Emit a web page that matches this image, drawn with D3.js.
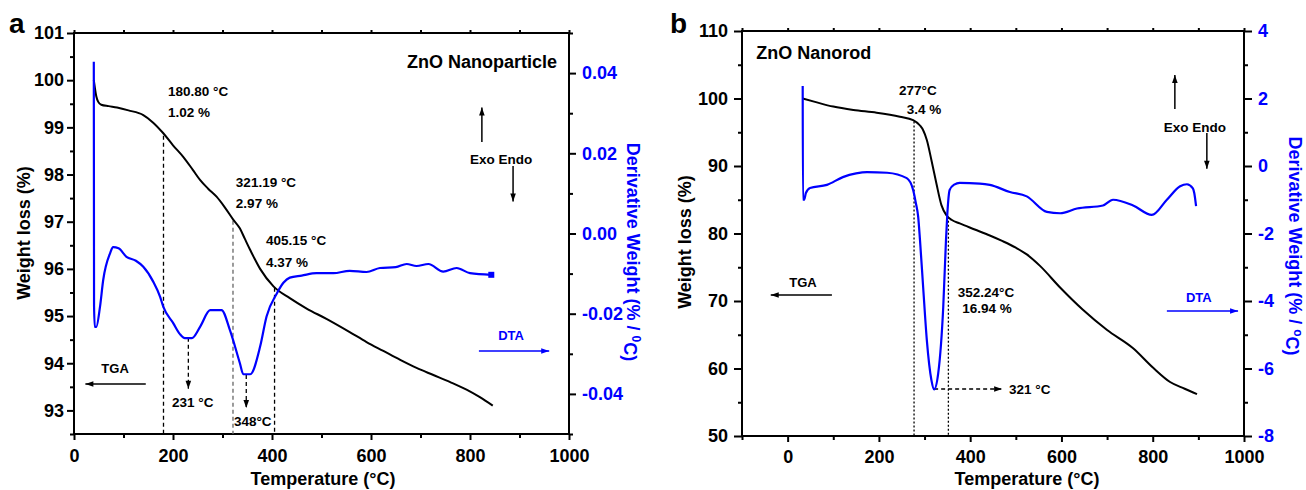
<!DOCTYPE html>
<html>
<head>
<meta charset="utf-8">
<script src="https://cdn.jsdelivr.net/npm/d3@7"></script>
<style>
  body { margin: 0; background: #fff; }
  svg text { font-family: "Liberation Sans", Arial, sans-serif; font-weight: bold; }
</style>
</head>
<body>
<svg id="chart" width="1306" height="490"></svg>
<script>
// ---------------------------------------------------------------
// Data  [temperature (°C), value]

// panel a : ZnO nanoparticle
const tgaA = [[40,100.0],[42,99.85],[45,99.66],[49,99.54],[55,99.48],[70,99.45],[87,99.42],[110,99.36],[140,99.26],[160,99.1],
  [180,98.88],[200,98.62],[221,98.37],[240,98.1],[255,97.88],[271,97.7],[288,97.53],[305,97.3],[322,97.04],
  [335,96.86],[345,96.64],[356,96.4],[376,96.0],[403,95.63],[436,95.38],[470,95.16],[510,94.94],
  [557,94.66],[591,94.45],[625,94.26],[659,94.07],[692,93.9],[726,93.75],[760,93.6],[793,93.44],[820,93.28],[846,93.1]];

const dtaA = [[40,0.0428],[40.5,-0.018],[42,-0.0233],[45,-0.0233],[52.5,-0.0183],[59,-0.0116],[73,-0.0049],
  [79,-0.0034],[90,-0.0037],[106,-0.0058],[125,-0.0068],[140,-0.0083],[160,-0.012],[174,-0.0158],[180.5,-0.0183],
  [200.7,-0.0224],[214,-0.0251],[224,-0.0261],[238,-0.0261],[255,-0.0232],[275,-0.0191],[298,-0.0191],
  [315,-0.0241],[335,-0.0323],[342,-0.0351],[356,-0.0351],[376,-0.0282],[389,-0.0207],[410,-0.0149],
  [423,-0.0123],[436,-0.011],[460,-0.0105],[490,-0.0099],[524,-0.0099],[557,-0.0093],[591,-0.0096],
  [618,-0.0086],[650,-0.0084],[672,-0.0076],[692,-0.0081],[716,-0.0076],[746,-0.0095],[773,-0.0086],
  [800,-0.0099],[843,-0.0103]];

// panel b : ZnO nanorod
const tgaB = [[33,100.0],[60,99.5],[100,98.8],[144,98.3],[195,97.9],[246,97.3],[275,96.8],[290,96.0],[297,95.3],
  [305,93.85],[315,90.9],[326,87.4],[337,84.2],[348,82.7],[360,82.0],[377,81.5],[410,80.6],[443,79.7],
  [470,78.9],[500,77.9],[524,76.9],[553,75.2],[597,72.0],[647,68.7],[700,65.7],[757,63.0],[801,60.1],
  [838,58.0],[870,57.0],[897,56.2]];

const dtaB = [[33,2.37],[33.5,-1.0],[36,-1.0],[40,-0.8],[49,-0.65],[86,-0.56],[121,-0.33],[150,-0.22],
  [174,-0.18],[218,-0.2],[261,-0.36],[275,-0.71],[281,-1.1],[286,-1.5],[290,-2.19],[297,-3.6],[305,-5.16],
  [315,-6.34],[321,-6.62],[330,-6.14],[341,-4.17],[347,-2.19],[350,-1.4],[355,-0.71],[365,-0.55],
  [377,-0.5],[421,-0.52],[443,-0.56],[487,-0.77],[524,-0.9],[568,-1.36],[597,-1.4],[634,-1.26],
  [691,-1.17],[713,-1.0],[757,-1.17],[798,-1.45],[831,-1.0],[860,-0.6],[875,-0.54],[888,-0.66],
  [891,-0.8],[895,-1.19]];

// tick values
const xTicksA = [0, 200, 400, 600, 800, 1000];
const xMinorA = [100, 300, 500, 700, 900];
const yTicksA = [93, 94, 95, 96, 97, 98, 99, 100, 101];
const yMinorA = [92.5, 93.5, 94.5, 95.5, 96.5, 97.5, 98.5, 99.5, 100.5];
const rTicksA = [-0.04, -0.02, 0.00, 0.02, 0.04];
const rMinorA = [-0.05, -0.03, -0.01, 0.01, 0.03, 0.05];

const xTicksB = [0, 200, 400, 600, 800, 1000];
const xMinorB = [-100, 100, 300, 500, 700, 900];
const yTicksB = [50, 60, 70, 80, 90, 100, 110];
const yMinorB = [55, 65, 75, 85, 95, 105];
const rTicksB = [-8, -6, -4, -2, 0, 2, 4];
const rMinorB = [-7, -5, -3, -1, 1, 3];

// ---------------------------------------------------------------
const BLUE = "#0000ff";
const svg = d3.select("#chart");

const defs = svg.append("defs");
[["arrBlack", "#000"], ["arrBlue", BLUE]].forEach(([id, c]) => {
  defs.append("marker")
    .attr("id", id).attr("viewBox", "0 0 10 10")
    .attr("refX", 10).attr("refY", 5)
    .attr("markerWidth", 10).attr("markerHeight", 8)
    .attr("markerUnits", "userSpaceOnUse")
    .attr("orient", "auto")
    .append("path").attr("d", "M0,1.5 L10,5 L0,8.5 Z").attr("fill", c);
});

const minusFmt = f => (d => f(d).replace("\u2212", "-"));

function drawPanel(p) {
  const x = d3.scaleLinear().domain(p.xDom).range([p.left, p.right]);
  const y = d3.scaleLinear().domain(p.yDom).range([p.bottom, p.top]);
  const yR = d3.scaleLinear().domain(p.rDom).range([p.bottom, p.top]);
  const g = svg.append("g");

  const clean = s => s.select(".domain").remove();

  // bottom axis
  g.append("g").attr("transform", `translate(0,${p.bottom})`)
    .call(d3.axisBottom(x).tickValues(p.xTicks).tickSize(6).tickPadding(p.xPad).tickFormat(d3.format("d")))
    .call(clean)
    .call(s => s.selectAll("text").style("font-size", "18px").attr("fill", "#000"))
    .call(s => s.selectAll("line").attr("stroke-width", 2));
  g.append("g").attr("transform", `translate(0,${p.bottom})`)
    .call(d3.axisBottom(x).tickValues(p.xMinor).tickSize(4).tickFormat(""))
    .call(clean).call(s => s.selectAll("line").attr("stroke-width", 2));
  // top ticks
  g.append("g").attr("transform", `translate(0,${p.top})`)
    .call(d3.axisTop(x).tickValues(p.xTicks.concat(p.xMinor)).tickSize(3).tickFormat(""))
    .call(clean).call(s => s.selectAll("line").attr("stroke-width", 2));

  // left axis
  g.append("g").attr("transform", `translate(${p.left},0)`)
    .call(d3.axisLeft(y).tickValues(p.yTicks).tickSize(p.lTick).tickPadding(p.lPad).tickFormat(d3.format("d")))
    .call(clean)
    .call(s => s.selectAll("text").style("font-size", "18px").attr("fill", "#000"))
    .call(s => s.selectAll("line").attr("stroke-width", 2));
  g.append("g").attr("transform", `translate(${p.left},0)`)
    .call(d3.axisLeft(y).tickValues(p.yMinor).tickSize(4).tickFormat(""))
    .call(clean).call(s => s.selectAll("line").attr("stroke-width", 2));

  // right axis
  g.append("g").attr("transform", `translate(${p.right},0)`)
    .call(d3.axisRight(yR).tickValues(p.rTicks).tickSize(p.rTick).tickPadding(6).tickFormat(minusFmt(d3.format(p.rFmt))))
    .call(clean)
    .call(s => s.selectAll("text").style("font-size", "18px").attr("fill", BLUE))
    .call(s => s.selectAll("line").attr("stroke-width", 2));
  g.append("g").attr("transform", `translate(${p.right},0)`)
    .call(d3.axisRight(yR).tickValues(p.rMinor).tickSize(4).tickFormat(""))
    .call(clean).call(s => s.selectAll("line").attr("stroke-width", 2));

  // frame
  g.append("rect")
    .attr("x", p.left).attr("y", p.top)
    .attr("width", p.right - p.left).attr("height", p.bottom - p.top)
    .attr("fill", "none").attr("stroke", "#000").attr("stroke-width", 2);

  // guide lines (dashed)
  p.guides.forEach(d => {
    g.append("line")
      .attr("x1", x(d.x1)).attr("x2", x(d.x2))
      .attr("y1", y(d.y1)).attr("y2", y(d.y2))
      .attr("stroke", d.c || "#000").attr("stroke-width", 1.3)
      .attr("stroke-dasharray", d.dash)
      .attr("marker-end", d.arrow ? "url(#arrBlack)" : null);
  });

  // curves
  const line = sc => d3.line().x(d => x(d[0])).y(d => sc(d[1])).curve(d3.curveMonotoneX);
  g.append("path").datum(p.tga)
    .attr("d", line(y)).attr("fill", "none").attr("stroke", "#000").attr("stroke-width", 2);
  g.append("path").datum(p.dta)
    .attr("d", line(yR)).attr("fill", "none").attr("stroke", BLUE).attr("stroke-width", 2.2)
    .attr("stroke-linejoin", "round");
  if (p.endMark) {
    const e = p.dta[p.dta.length - 1];
    g.append("rect").attr("x", x(e[0]) - 3).attr("y", yR(e[1]) - 3)
      .attr("width", 6).attr("height", 6).attr("fill", BLUE);
  }

  // plain arrows
  p.arrows.forEach(a => {
    g.append("line")
      .attr("x1", x(a.x1)).attr("x2", x(a.x2))
      .attr("y1", y(a.y1)).attr("y2", y(a.y2))
      .attr("stroke", a.c || "#000").attr("stroke-width", 1.5)
      .attr("marker-end", a.c ? "url(#arrBlue)" : "url(#arrBlack)");
  });

  // annotation texts
  p.notes.forEach(n => {
    g.append("text")
      .attr("x", x(n.x)).attr("y", y(n.y)).attr("dy", "0.35em")
      .attr("text-anchor", n.anchor || "start")
      .style("font-size", (n.size || 13.5) + "px")
      .attr("fill", n.c || "#000")
      .text(n.t);
  });

  // axis titles
  g.append("text")
    .attr("transform", `translate(${p.lTitle[0]},${p.lTitle[1]}) rotate(-90)`)
    .attr("text-anchor", "middle").attr("dy", "0.35em")
    .style("font-size", "18px").text("Weight loss (%)");

  const rt = g.append("text")
    .attr("transform", `translate(${p.rTitle[0]},${p.rTitle[1]}) rotate(90)`)
    .attr("text-anchor", "middle").attr("dy", "0.35em")
    .style("font-size", "18px").attr("fill", BLUE);
  rt.append("tspan").text("Derivative Weight (% / ");
  rt.append("tspan").attr("dy", "-0.45em").style("font-size", "12px").text(p.supChar);
  rt.append("tspan").attr("dy", "0.45em").text("C)");

  g.append("text")
    .attr("x", p.xTitle[0]).attr("y", p.xTitle[1]).attr("dy", "0.35em")
    .attr("text-anchor", "middle").style("font-size", "18px")
    .text("Temperature (\u00B0C)");

  g.append("text")
    .attr("x", p.letter[0]).attr("y", p.letter[1])
    .style("font-size", "28px").text(p.letterText);
}

// panel a
drawPanel({
  left: 74, right: 569, top: 33, bottom: 434,
  xDom: [0, 1000], yDom: [92.5, 101], rDom: [-0.05, 0.05],
  xTicks: xTicksA, xMinor: xMinorA, yTicks: yTicksA, yMinor: yMinorA,
  rTicks: rTicksA, rMinor: rMinorA, rFmt: ".2f",
  xPad: 9, lTick: 7, lPad: 3, rTick: 7,
  tga: tgaA, dta: dtaA, endMark: true,
  guides: [
    { x1: 180.8, x2: 180.8, y1: 98.82, y2: 92.5, dash: "4,3" },
    { x1: 321.19, x2: 321.19, y1: 97.02, y2: 92.5, dash: "4,3", c: "#666" },
    { x1: 405.15, x2: 405.15, y1: 95.6, y2: 92.5, dash: "4,3" },
    { x1: 231, x2: 231, y1: 94.54, y2: 93.46, dash: "4,3", arrow: true },
    { x1: 348, x2: 348, y1: 93.75, y2: 93.05, dash: "4,3", arrow: true }
  ],
  arrows: [
    { x1: 824, x2: 824, y1: 98.69, y2: 99.42 },
    { x1: 887, x2: 887, y1: 98.18, y2: 97.43 },
    { x1: 145, x2: 23, y1: 93.56, y2: 93.56 },
    { x1: 818, x2: 960, y1: 94.26, y2: 94.26, c: BLUE }
  ],
  notes: [
    { t: "180.80 \u00B0C", x: 190, y: 99.77 },
    { t: "1.02 %", x: 190, y: 99.31 },
    { t: "321.19 \u00B0C", x: 327, y: 97.84 },
    { t: "2.97 %", x: 327, y: 97.40 },
    { t: "405.15 \u00B0C", x: 388, y: 96.61 },
    { t: "4.37 %", x: 388, y: 96.13 },
    { t: "231 \u00B0C", x: 198, y: 93.18 },
    { t: "348\u00B0C", x: 323, y: 92.76 },
    { t: "ZnO Nanoparticle", x: 976, y: 100.39, anchor: "end", size: 18 },
    { t: "Exo Endo", x: 863, y: 98.33, anchor: "middle", size: 13.5 },
    { t: "TGA", x: 83, y: 93.9, anchor: "middle", size: 13 },
    { t: "DTA", x: 883, y: 94.58, anchor: "middle", size: 13, c: BLUE }
  ],
  lTitle: [24, 233], rTitle: [633, 252], xTitle: [323, 479],
  supChar: "0", letter: [9, 33], letterText: "a"
});

// panel b
drawPanel({
  left: 742, right: 1244, top: 31, bottom: 436,
  xDom: [-100, 1000], yDom: [50, 110], rDom: [-8, 4],
  xTicks: xTicksB, xMinor: xMinorB, yTicks: yTicksB, yMinor: yMinorB,
  rTicks: rTicksB, rMinor: rMinorB, rFmt: "d",
  xPad: 8, lTick: 8, lPad: 6, rTick: 8,
  tga: tgaB, dta: dtaB, endMark: false,
  guides: [
    { x1: 277, x2: 277, y1: 96.6, y2: 50, dash: "2,2" },
    { x1: 352.24, x2: 352.24, y1: 82.5, y2: 50, dash: "2,2" },
    { x1: 321, x2: 470, y1: 56.96, y2: 56.96, dash: "4,3", arrow: true }
  ],
  arrows: [
    { x1: 848.5, x2: 848.5, y1: 98.44, y2: 103.5 },
    { x1: 918.6, x2: 918.6, y1: 94.89, y2: 89.6 },
    { x1: 97, x2: -37, y1: 70.89, y2: 70.89 },
    { x1: 831, x2: 987, y1: 68.52, y2: 68.52, c: BLUE }
  ],
  notes: [
    { t: "277\u00B0C", x: 285.5, y: 101.26, anchor: "middle" },
    { t: "3.4 %", x: 298.7, y: 98.44, anchor: "middle" },
    { t: "352.24\u00B0C", x: 434.5, y: 71.33, anchor: "middle" },
    { t: "16.94 %", x: 436.7, y: 68.96, anchor: "middle" },
    { t: "321 \u00B0C", x: 485, y: 56.96 },
    { t: "ZnO Nanorod", x: -69, y: 106.74, size: 18 },
    { t: "Exo Endo", x: 892.3, y: 95.78, anchor: "middle", size: 13.5 },
    { t: "TGA", x: 33.6, y: 72.81, anchor: "middle", size: 13 },
    { t: "DTA", x: 901, y: 70.59, anchor: "middle", size: 13, c: BLUE }
  ],
  lTitle: [685, 242], rTitle: [1295, 246], xTitle: [1027, 479],
  supChar: "o", letter: [670, 33], letterText: "b"
});
</script>
</body>
</html>
